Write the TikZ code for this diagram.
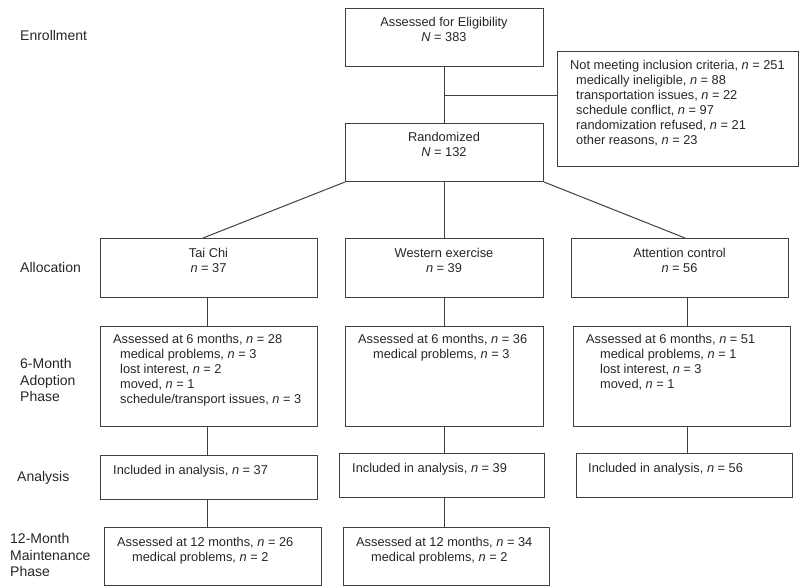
\documentclass[tikz,border=0pt]{standalone}
\usepackage{fontspec}
\setmainfont{Liberation Sans}
\usetikzlibrary{calc}
\newcommand{\nsym}{\textit{n}}
\newcommand{\Nsym}{\textit{N}}
\tikzset{
  box/.style={draw=black!75, line width=1pt, anchor=north west, inner sep=0pt},
  boxtext/.style={inner sep=0pt, align=left, anchor=north west, text=black!85,
    font=\fontsize{12.8}{15}\selectfont},
  midtext/.style={boxtext, align=center, anchor=north},
  phase/.style={inner sep=0pt, align=left, anchor=west, text=black!85,
    font=\fontsize{14}{16.5}\selectfont},
  link/.style={draw=black!75, line width=1pt}
}
\begin{document}
\begin{tikzpicture}[x=1pt, y=-1pt]
  \useasboundingbox (0,0) rectangle (800,587);

  % Phase labels
  \node[phase] (lenroll) at (20,35) {Enrollment};
  \node[phase] (lalloc) at (20,267) {Allocation};
  \node[phase] (ladopt) at (20,380) {6-Month\\Adoption\\Phase};
  \node[phase] (lanal) at (17,478) {Analysis};
  \node[phase] (lmaint) at (10,555) {12-Month\\Maintenance\\Phase};

  % Enrollment
  \node[box, minimum width=198, minimum height=58] (elig) at (345,8) {};
  \node[midtext] (eligtxt) at (444,17.4) {Assessed for Eligibility\\\Nsym{} = 383};
  \node[box, minimum width=198, minimum height=58] (rand) at (345,123) {};
  \node[midtext] (randtxt) at (444,132.4) {Randomized\\\Nsym{} = 132};
  \node[box, minimum width=241, minimum height=115] (excl) at (557,51) {};
  \node[boxtext] (excltxt) at (570,60.4) {Not meeting inclusion criteria, \nsym{} = 251\\
    \hspace*{6pt}medically ineligible, \nsym{} = 88\\
    \hspace*{6pt}transportation issues, \nsym{} = 22\\
    \hspace*{6pt}schedule conflict, \nsym{} = 97\\
    \hspace*{6pt}randomization refused, \nsym{} = 21\\
    \hspace*{6pt}other reasons, \nsym{} = 23};

  % Allocation
  \node[box, minimum width=217, minimum height=59] (tai) at (100,238) {};
  \node[midtext] (taitxt) at (208.5,248.4) {Tai Chi\\\nsym{} = 37};
  \node[box, minimum width=198, minimum height=59] (west) at (345,238) {};
  \node[midtext] (westtxt) at (444,248.4) {Western exercise\\\nsym{} = 39};
  \node[box, minimum width=217, minimum height=59] (att) at (571,238) {};
  \node[midtext] (atttxt) at (679.5,248.4) {Attention control\\\nsym{} = 56};

  % 6-month adoption
  \node[box, minimum width=217, minimum height=100] (taisix) at (100,326) {};
  \node[boxtext] (taisixtxt) at (113,334.4) {Assessed at 6 months, \nsym{} = 28\\
    \hspace*{7pt}medical problems, \nsym{} = 3\\
    \hspace*{7pt}lost interest, \nsym{} = 2\\
    \hspace*{7pt}moved, \nsym{} = 1\\
    \hspace*{7pt}schedule/transport issues, \nsym{} = 3};
  \node[box, minimum width=198, minimum height=100] (westsix) at (345,326) {};
  \node[boxtext] (westsixtxt) at (358,334.4) {Assessed at 6 months, \nsym{} = 36\\
    \hspace*{15pt}medical problems, \nsym{} = 3};
  \node[box, minimum width=217, minimum height=100] (attsix) at (573,326) {};
  \node[boxtext] (attsixtxt) at (586,334.4) {Assessed at 6 months, \nsym{} = 51\\
    \hspace*{14pt}medical problems, \nsym{} = 1\\
    \hspace*{14pt}lost interest, \nsym{} = 3\\
    \hspace*{14pt}moved, \nsym{} = 1};

  % Analysis
  \node[box, minimum width=217, minimum height=44] (taian) at (100,455) {};
  \node[boxtext] (taiantxt) at (113,465.4) {Included in analysis, \nsym{} = 37};
  \node[box, minimum width=205, minimum height=44] (westan) at (339,453) {};
  \node[boxtext] (westantxt) at (352,463.4) {Included in analysis, \nsym{} = 39};
  \node[box, minimum width=216, minimum height=44] (attan) at (576,453) {};
  \node[boxtext] (attantxt) at (588,463.4) {Included in analysis, \nsym{} = 56};

  % 12-month maintenance
  \node[box, minimum width=217, minimum height=58] (taitw) at (104,527) {};
  \node[boxtext] (taitwtxt) at (117,537.4) {Assessed at 12 months, \nsym{} = 26\\
    \hspace*{15pt}medical problems, \nsym{} = 2};
  \node[box, minimum width=206, minimum height=58] (westtw) at (343,527) {};
  \node[boxtext] (westtwtxt) at (356,537.4) {Assessed at 12 months, \nsym{} = 34\\
    \hspace*{15pt}medical problems, \nsym{} = 2};

  % Connectors
  \coordinate (split) at ($(elig.south)!0.5!(rand.north)$);
  \coordinate (taitop) at ([xshift=-6pt]tai.north);
  \coordinate (atttop) at ([xshift=5pt]att.north);
  \draw[link] (elig.south) -- (rand.north);
  \draw[link] (split) -- (split -| excl.west);
  \draw[link] (rand.south west) -- (taitop);
  \draw[link] (rand.south) -- (west.north);
  \draw[link] (rand.south east) -- (atttop);
  \draw[link] ([xshift=-2pt]tai.south) -- ([xshift=-2pt]tai.south |- taisix.north);
  \draw[link] (west.south) -- (westsix.north);
  \draw[link] ([xshift=7pt]att.south) -- ([xshift=7pt]att.south |- attsix.north);
  \draw[link] ([xshift=-2pt]taisix.south) -- ([xshift=-2pt]taisix.south |- taian.north);
  \draw[link] (westsix.south) -- (westsix.south |- westan.north);
  \draw[link] ([xshift=7pt]att.south |- attsix.south) -- ([xshift=7pt]att.south |- attan.north);
  \draw[link] ([xshift=-2pt]taian.south) -- ([xshift=-2pt]taian.south |- taitw.north);
  \draw[link] (westan.south -| westsix.south) -- (westsix.south |- westtw.north);
\end{tikzpicture}
\end{document}
